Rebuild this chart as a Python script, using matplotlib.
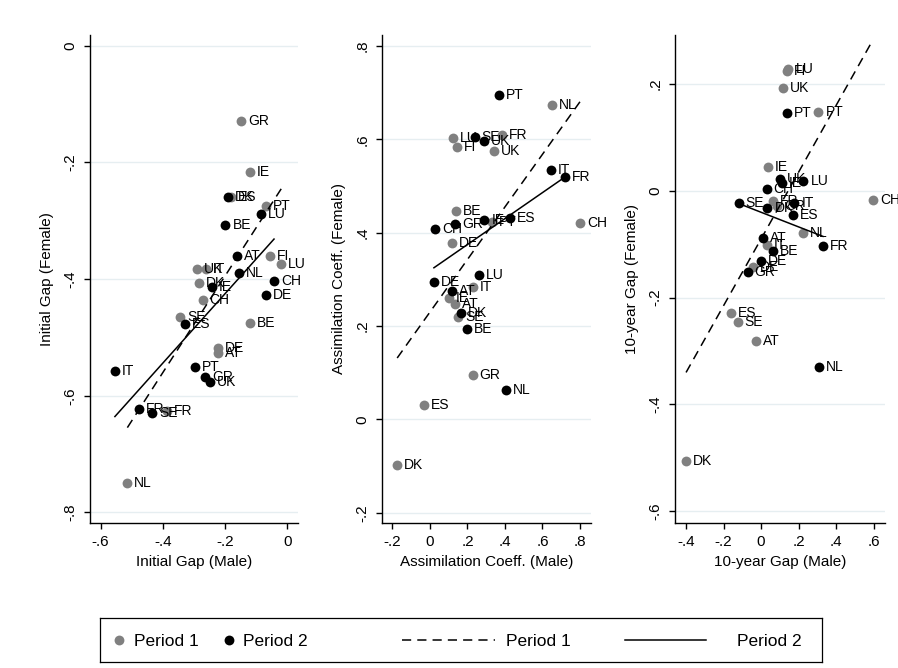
import numpy as np
import matplotlib
matplotlib.use("Agg")
import matplotlib.pyplot as plt
from matplotlib.ticker import FuncFormatter

plt.rcParams['font.family'] = ['Liberation Sans', 'DejaVu Sans']

# countries
c_p1 = ["AT", "BE", "CH", "DE", "DK", "ES", "FI", "FR", "GR", "IE", "IT", "LU", "NL", "PT", "SE", "UK"]
c_p2 = ["AT", "BE", "CH", "DE", "DK", "ES", "FR", "GR", "IE", "IT", "LU", "NL", "PT", "SE", "UK"]
c_p1_10y = ["AT", "CH", "DE", "DK", "ES", "FI", "FR", "GR", "IE", "IT", "LU", "NL", "PT", "SE", "UK"]

# panel 1: initial gap
init_m_p1 = [-0.222, -0.120, -0.272, -0.222, -0.285, -0.182, -0.056, -0.388, -0.149, -0.120, -0.261, -0.020, -0.514, -0.069, -0.345, -0.291]
init_f_p1 = [-0.527, -0.476, -0.436, -0.519, -0.406, -0.260, -0.361, -0.626, -0.130, -0.217, -0.383, -0.375, -0.750, -0.275, -0.465, -0.383]
init_m_p2 = [-0.161, -0.199, -0.043, -0.068, -0.192, -0.328, -0.476, -0.265, -0.243, -0.554, -0.085, -0.155, -0.296, -0.434, -0.249]
init_f_p2 = [-0.361, -0.307, -0.403, -0.427, -0.259, -0.477, -0.623, -0.568, -0.414, -0.558, -0.289, -0.390, -0.550, -0.629, -0.576]

# panel 2: assimilation coefficient
assim_m_p1 = [0.133, 0.139, 0.800, 0.116, -0.175, -0.031, 0.142, 0.383, 0.228, 0.103, 0.231, 0.121, 0.653, 0.329, 0.151, 0.342]
assim_f_p1 = [0.247, 0.446, 0.420, 0.377, -0.098, 0.031, 0.584, 0.609, 0.096, 0.261, 0.284, 0.603, 0.673, 0.423, 0.220, 0.576]
assim_m_p2 = [0.119, 0.199, 0.028, 0.021, 0.165, 0.429, 0.718, 0.133, 0.290, 0.647, 0.263, 0.404, 0.370, 0.239, 0.288]
assim_f_p2 = [0.274, 0.193, 0.407, 0.295, 0.227, 0.432, 0.520, 0.419, 0.427, 0.534, 0.309, 0.063, 0.696, 0.606, 0.597]

# panel 3: 10-year gap
gap10_m_p1 = [-0.027, 0.596, -0.044, -0.400, -0.160, 0.137, 0.062, 0.084, 0.036, 0.030, 0.146, 0.222, 0.306, -0.124, 0.116]
gap10_f_p1 = [-0.281, -0.017, -0.143, -0.506, -0.229, 0.225, -0.018, -0.029, 0.044, -0.101, 0.228, -0.079, 0.147, -0.245, 0.192]
gap10_m_p2 = [0.012, 0.062, 0.030, -0.002, 0.034, 0.169, 0.330, -0.071, 0.110, 0.178, 0.226, 0.309, 0.140, -0.119, 0.101]
gap10_f_p2 = [-0.089, -0.112, 0.003, -0.132, -0.032, -0.045, -0.104, -0.151, 0.014, -0.023, 0.019, -0.329, 0.146, -0.022, 0.022]

# linear fits (intercept, slope) per panel and period
fit_init = [(-0.229, 0.828), (-0.306, 0.595)]
fit_assim = [(0.230, 0.563), (0.319, 0.278)]
fit_gap10 = [(-0.090, 0.625), (-0.040, -0.137)]

gray = "#808080"
W, H = 898, 668


def stata_fmt(v, pos):
    s = f"{v:.1f}".rstrip("0").rstrip(".")
    if s in ("-0", ""):
        s = "0"
    return s.replace("0.", ".")


def panel(ax, c1, x1, y1, c2, x2, y2, fits, xlab, ylab, xt, yt, xlim, ylim):
    ax.scatter(x1, y1, s=50, color=gray, linewidths=0, zorder=2)
    ax.scatter(x2, y2, s=50, color="black", linewidths=0, zorder=2)
    for cs, xs, ys in [(c1, x1, y1), (c2, x2, y2)]:
        for c, x, y in zip(cs, xs, ys):
            ax.annotate(c, (x, y), xytext=(5, 0), textcoords="offset points",
                        ha="left", va="center", fontsize=10, zorder=3,
                        annotation_clip=False)
    for (a, b), xs, ls in [(fits[0], x1, (0, (6, 4))), (fits[1], x2, "-")]:
        xx = np.array([min(xs), max(xs)])
        ax.plot(xx, a + b * xx, color="black", lw=1.1, linestyle=ls, zorder=4)
    ax.set_xlim(*xlim)
    ax.set_ylim(*ylim)
    ax.set_xticks(xt)
    ax.set_yticks(yt)
    ax.xaxis.set_major_formatter(FuncFormatter(stata_fmt))
    ax.yaxis.set_major_formatter(FuncFormatter(stata_fmt))
    ax.grid(axis="y", color="#e6eef1", lw=1.0, zorder=0)
    ax.set_axisbelow(True)
    for s in ["top", "right"]:
        ax.spines[s].set_visible(False)
    for s in ["left", "bottom"]:
        ax.spines[s].set_linewidth(1.0)
    ax.tick_params(direction="out", length=4, width=1.0, labelsize=11, pad=5)
    for lab in ax.get_yticklabels():
        lab.set_rotation(90)
        lab.set_va("center")
    ax.set_xlabel(xlab, fontsize=11, labelpad=4)
    ax.set_ylabel(ylab, fontsize=11, labelpad=7)


fig = plt.figure(figsize=(W / 100, H / 100), dpi=100)
fig.patch.set_facecolor("white")

top, bot = 35, 523
ax1 = fig.add_axes([90 / W, (H - bot) / H, 208 / W, (bot - top) / H])
ax2 = fig.add_axes([382 / W, (H - bot) / H, 209 / W, (bot - top) / H])
ax3 = fig.add_axes([675 / W, (H - bot) / H, 210 / W, (bot - top) / H])

panel(ax1, c_p1, init_m_p1, init_f_p1, c_p2, init_m_p2, init_f_p2, fit_init,
      "Initial Gap (Male)", "Initial Gap (Female)",
      [-0.6, -0.4, -0.2, 0], [-0.8, -0.6, -0.4, -0.2, 0],
      (-0.634, 0.034), (-0.818, 0.018))
panel(ax2, c_p1, assim_m_p1, assim_f_p1, c_p2, assim_m_p2, assim_f_p2, fit_assim,
      "Assimilation Coeff. (Male)", "Assimilation Coeff. (Female)",
      [-0.2, 0, 0.2, 0.4, 0.6, 0.8], [-0.2, 0, 0.2, 0.4, 0.6, 0.8],
      (-0.256, 0.859), (-0.222, 0.8235))
panel(ax3, c_p1_10y, gap10_m_p1, gap10_f_p1, c_p2, gap10_m_p2, gap10_f_p2, fit_gap10,
      "10-year Gap (Male)", "10-year Gap (Female)",
      [-0.4, -0.2, 0, 0.2, 0.4, 0.6], [-0.6, -0.4, -0.2, 0, 0.2],
      (-0.459, 0.661), (-0.622, 0.292))

# legend box
lax = fig.add_axes([100 / W, (H - 662) / H, 722 / W, 44 / H])
lax.set_xlim(100, 822)
lax.set_ylim(0, 44)
lax.set_xticks([])
lax.set_yticks([])
for s in lax.spines.values():
    s.set_linewidth(0.9)
lax.scatter([119], [22], s=50, color=gray, linewidths=0)
lax.text(134, 21, "Period 1", fontsize=12.5, va="center")
lax.scatter([229], [22], s=50, color="black", linewidths=0)
lax.text(243, 21, "Period 2", fontsize=12.5, va="center")
lax.plot([402, 495], [22, 22], color="black", lw=1.1, linestyle=(0, (6, 4)))
lax.text(506, 21, "Period 1", fontsize=12.5, va="center")
lax.plot([625, 706], [22, 22], color="black", lw=1.1)
lax.text(737, 21, "Period 2", fontsize=12.5, va="center")

fig.savefig("out.png", dpi=100, facecolor="white")
